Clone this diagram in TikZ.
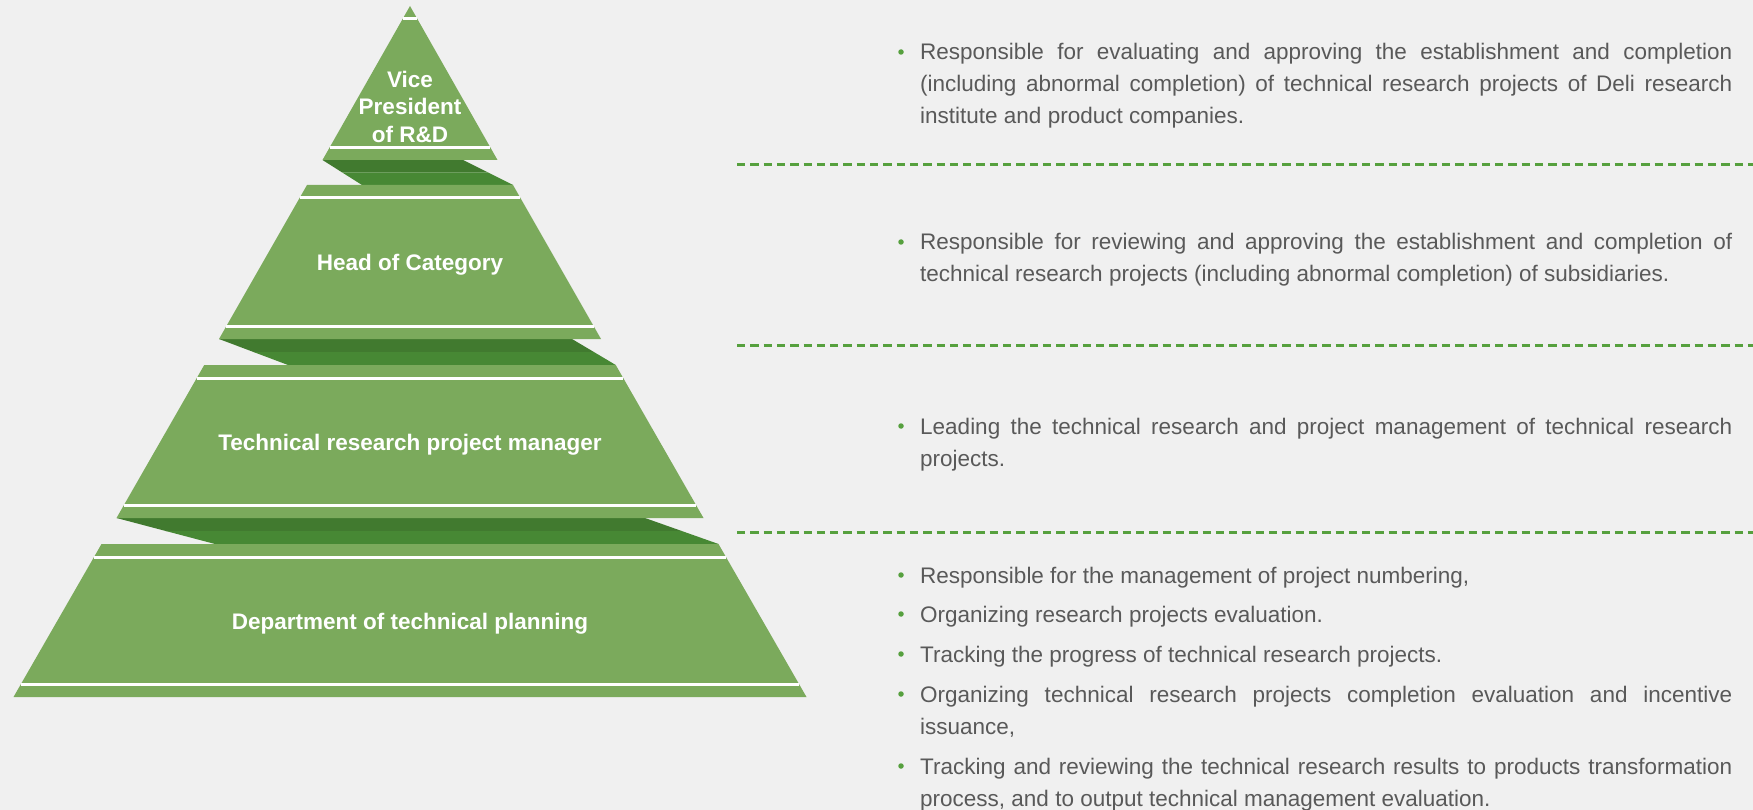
\documentclass[tikz,border=0pt]{standalone}
\usepackage{fontspec}
\setmainfont{Liberation Sans}
\hyphenpenalty=10000
\exhyphenpenalty=10000
\definecolor{bgcol}{RGB}{240,240,240}
\definecolor{layergreen}{RGB}{123,170,92}
\definecolor{shadowdark}{RGB}{65,122,47}
\definecolor{shadowlight}{RGB}{71,136,52}
\definecolor{dashgreen}{RGB}{86,160,62}
\definecolor{textgray}{RGB}{89,89,89}
\tikzset{
  layerfill/.style={fill=layergreen},
  whiteline/.style={draw=white, line width=3pt},
  shadowtop/.style={fill=shadowdark},
  shadowbot/.style={fill=shadowlight},
  sepline/.style={draw=dashgreen, line width=3pt, dash pattern=on 8.3pt off 5pt},
  layerlabel/.style={text=white, font=\fontsize{22.5}{27.2}\selectfont\bfseries, align=center, inner sep=0pt},
  bullettext/.style={text=textgray, font=\fontsize{22.5}{32}\selectfont, text width=812pt, align=justify, inner sep=0pt, anchor=base west},
  bulletdot/.style={circle, fill=dashgreen, minimum size=5.5pt, inner sep=0pt}
}
\newcommand\pyrlayer[4]{%
  \pgfmathsetmacro\pyrs{(#4-#3)/(#2-#1)}%
  \pgfmathsetmacro\pyrwa{#3+13*\pyrs}%
  \pgfmathsetmacro\pyrwb{#4-12.5*\pyrs}%
  \fill[layerfill] (410-#3,#1) -- (410+#3,#1) -- (410+#4,#2) -- (410-#4,#2) -- cycle;
  \draw[whiteline] (410-\pyrwa,#1+13) -- (410+\pyrwa,#1+13);
  \draw[whiteline] (410-\pyrwb,#2-12.5) -- (410+\pyrwb,#2-12.5);
}
\newcommand\pyrshadow[6]{%
  \fill[shadowtop] (#3,#1) -- (#4,#1) -- ({(#4+#5)/2},{(#1+#2)/2}) -- ({(#3+#6)/2},{(#1+#2)/2}) -- cycle;
  \fill[shadowbot] ({(#3+#6)/2},{(#1+#2)/2}) -- ({(#4+#5)/2},{(#1+#2)/2}) -- (#5,#2) -- (#6,#2) -- cycle;
}
\begin{document}
\begin{tikzpicture}[x=1pt,y=-1pt]
  \fill[bgcol] (0,0) rectangle (1753,810);
  \useasboundingbox (0,0) rectangle (1753,810);

  % shadows between layers
  \pyrshadow{160}{185}{322.5}{463}{513}{362}
  \pyrshadow{339}{365}{219}{572}{615.75}{288}
  \pyrshadow{518}{544}{116.5}{645}{718.5}{215}

  % pyramid layers
  \pyrlayer{6}{160}{0}{87.5}
  \pyrlayer{185}{339}{103}{191}
  \pyrlayer{365}{518}{205.75}{293.5}
  \pyrlayer{544}{697}{308.5}{396.5}

  % layer labels
  \node[layerlabel, anchor=north] (vp) at (410,71.2) {Vice\\President\\of R\&D};
  \node[layerlabel, anchor=base] (head) at (410,271) {Head of Category};
  \node[layerlabel, anchor=base] (manager) at (410,450) {Technical research project manager};
  \node[layerlabel, anchor=base] (dept) at (410,629) {Department of technical planning};

  % separators
  \coordinate (s1a) at (737,165); \coordinate (s1b) at (1753,165);
  \coordinate (s2a) at (737,345); \coordinate (s2b) at (1753,345);
  \coordinate (s3a) at (737,532.7); \coordinate (s3b) at (1753,532.7);
  \draw[sepline] (s1a) -- (s1b);
  \draw[sepline] (s2a) -- (s2b);
  \draw[sepline] (s3a) -- (s3b);

  % bullet texts
  \node[bulletdot] (d1) at (901,52) {};
  \node[bullettext] (t1) at (920,60) {Responsible for evaluating and approving the establishment and completion\linebreak (including abnormal completion) of technical research projects of Deli research\linebreak institute and product companies.};

  \node[bulletdot] (d2) at (901,242) {};
  \node[bullettext] (t2) at (920,250) {Responsible for reviewing and approving the establishment and completion of\linebreak technical research projects (including abnormal completion) of subsidiaries.};

  \node[bulletdot] (d3) at (901,426) {};
  \node[bullettext] (t3) at (920,434) {Leading the technical research and project management of technical research\linebreak projects.};

  \node[bulletdot] (d4) at (901,575) {};
  \node[bullettext] (t4) at (920,583) {Responsible for the management of project numbering,};
  \node[bulletdot] (d5) at (901,614) {};
  \node[bullettext] (t5) at (920,622) {Organizing research projects evaluation.};
  \node[bulletdot] (d6) at (901,654) {};
  \node[bullettext] (t6) at (920,662) {Tracking the progress of technical research projects.};
  \node[bulletdot] (d7) at (901,694) {};
  \node[bullettext] (t7) at (920,702) {Organizing technical research projects completion evaluation and incentive\linebreak issuance,};
  \node[bulletdot] (d8) at (901,766) {};
  \node[bullettext] (t8) at (920,774) {Tracking and reviewing the technical research results to products transformation\linebreak process, and to output technical management evaluation.};
\end{tikzpicture}
\end{document}
